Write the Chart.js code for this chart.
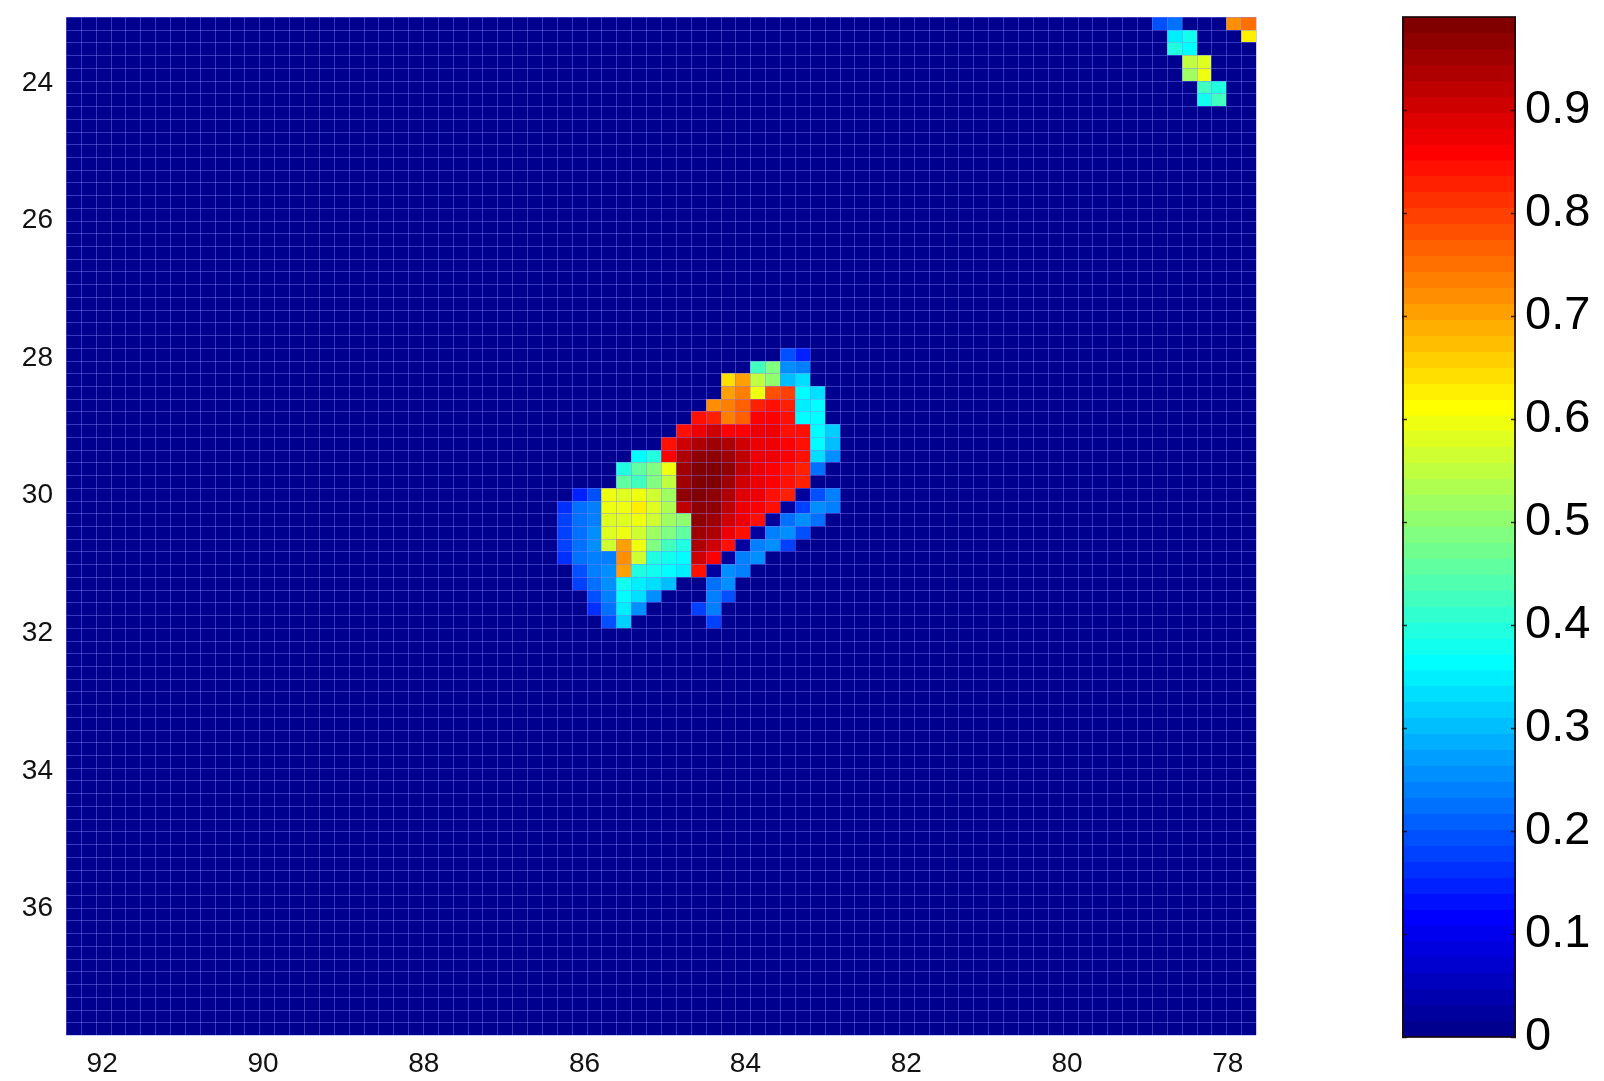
<!DOCTYPE html>
<html>
<head>
<meta charset="utf-8">
<script src="https://cdn.jsdelivr.net/npm/chart.js@4.4.1/dist/chart.umd.min.js"></script>
<style>
  html, body { margin: 0; padding: 0; background: #fff; }
  #map { position: absolute; left: 0; top: 0; }
  #bar { position: absolute; left: 1402px; top: 0; }
</style>
</head>
<body>
<canvas id="map" width="1300" height="1081"></canvas>
<canvas id="bar" width="202" height="1081"></canvas>
<script>
// 80 x 80 cells of 0.185 deg, counted from the north-west corner
const gridCols = 80;
const gridRows = 80;
const lonWest = 92.45;
const latTop = 23.04;
const cellDeg = 0.185;

const lonTicks = [92, 90, 88, 86, 84, 82, 80, 78];
const latTicks = [24, 26, 28, 30, 32, 34, 36];
const colorTicks = [0, 0.1, 0.2, 0.3, 0.4, 0.5, 0.6, 0.7, 0.8, 0.9];

// non-zero runs: grid row, first grid column, values along the row (percent)
const hotRow = [0, 0, 1, 1, 2, 3, 4, 5, 6,
  26, 27, 28, 29, 30, 31, 32, 33, 34, 35, 36, 37, 38, 39, 40, 41, 42, 43, 44, 45, 46, 47];
const hotCol = [73, 78, 74, 79, 74, 75, 75, 76, 76,
  48, 46, 44, 44, 43, 42, 41, 40, 38, 37, 37, 34, 33, 33, 33, 33, 33, 34, 34, 35, 35, 36];
const hotPct = [
  [20, 22], [72, 75], [35, 38], [62], [40, 36], [55, 58], [52, 60], [42, 40], [38, 42],
  [20, 15],
  [42, 48, 26, 24],
  [64, 70, 55, 50, 30, 34],
  [70, 74, 60, 78, 80, 36, 33],
  [72, 74, 76, 82, 84, 82, 35, 36],
  [84, 82, 74, 76, 86, 86, 84, 36, 36],
  [84, 88, 90, 86, 86, 88, 87, 85, 84, 37, 32],
  [84, 90, 94, 95, 93, 90, 88, 87, 86, 84, 36, 30],
  [36, 40, 86, 93, 97, 97, 95, 92, 88, 87, 86, 84, 34, 26],
  [40, 45, 48, 60, 95, 98, 99, 96, 92, 88, 86, 85, 83, 22],
  [45, 42, 48, 55, 95, 98, 98, 95, 90, 87, 86, 84, 82],
  [14, 20, 60, 58, 60, 56, 52, 96, 98, 97, 94, 89, 87, 85, 83, 3, 20, 24],
  [16, 22, 24, 60, 60, 62, 58, 54, 92, 97, 96, 92, 88, 86, 84, 3, 18, 25, 24],
  [18, 22, 24, 58, 58, 60, 56, 52, 50, 96, 95, 90, 87, 84, 3, 22, 25, 22],
  [18, 22, 25, 58, 60, 56, 52, 48, 46, 95, 93, 88, 84, 3, 24, 25, 20],
  [18, 22, 25, 56, 70, 60, 48, 42, 40, 93, 90, 85, 3, 24, 25, 18],
  [16, 22, 24, 24, 72, 56, 40, 38, 36, 90, 86, 3, 24, 25],
  [20, 24, 25, 70, 40, 38, 36, 35, 84, 3, 25, 24],
  [18, 22, 25, 38, 35, 34, 30, 0, 0, 22, 25],
  [20, 24, 36, 34, 25, 0, 0, 0, 24, 20],
  [16, 22, 35, 25, 0, 0, 0, 18, 24],
  [20, 32, 0, 0, 0, 0, 0, 18]
];

const lonEast = lonWest - gridCols * cellDeg;
const latBottom = latTop + gridRows * cellDeg;
const cMax = Math.max(...hotPct.flat()) / 100;

// MATLAB style 64 step jet
function buildJet(m) {
  const n = Math.ceil(m / 4);
  const u = [];
  for (let i = 1; i <= n; i++) u.push(i / n);
  for (let i = 1; i < n; i++) u.push(1);
  for (let i = n; i >= 1; i--) u.push(i / n);
  const g0 = Math.ceil(n / 2) - (m % 4 === 1 ? 1 : 0);
  const map = Array.from({ length: m }, () => [0, 0, 0]);
  u.forEach((val, i) => {
    const g = g0 + i + 1, r = g + n, b = g - n;
    if (g >= 1 && g <= m) map[g - 1][1] = val;
    if (r >= 1 && r <= m) map[r - 1][0] = val;
    if (b >= 1 && b <= m) map[b - 1][2] = val;
  });
  return map.map(c => `rgb(${Math.round(c[0] * 255)},${Math.round(c[1] * 255)},${Math.round(c[2] * 255)})`);
}
const jet = buildJet(64);
function jetColor(v) {
  const k = Math.floor(v / cMax * 64);
  return jet[Math.min(63, Math.max(0, k))];
}

// fill the whole grid, zero where nothing was measured
const values = new Array(gridCols * gridRows).fill(0);
hotRow.forEach((r, i) => {
  hotPct[i].forEach((p, k) => { values[r * gridCols + hotCol[i] + k] = p / 100; });
});
const cells = [];
for (let r = 0; r < gridRows; r++) {
  for (let c = 0; c < gridCols; c++) {
    cells.push({
      x: lonWest - (c + 0.5) * cellDeg,
      y: latTop + (r + 0.5) * cellDeg,
      v: values[r * gridCols + c]
    });
  }
}

const cellPainter = {
  id: 'cellPainter',
  beforeDatasetsDraw(chart) {
    const { ctx, scales: { x, y } } = chart;
    const half = cellDeg / 2;
    ctx.save();
    chart.data.datasets[0].data.forEach(p => {
      const x0 = Math.round(x.getPixelForValue(p.x + half));
      const x1 = Math.round(x.getPixelForValue(p.x - half));
      const y0 = Math.round(y.getPixelForValue(p.y - half));
      const y1 = Math.round(y.getPixelForValue(p.y + half));
      ctx.fillStyle = jetColor(p.v);
      ctx.fillRect(Math.min(x0, x1), Math.min(y0, y1), Math.abs(x1 - x0), Math.abs(y1 - y0));
    });
    // light mesh over the cells
    const top = y.getPixelForValue(latTop), bottom = y.getPixelForValue(latBottom);
    const left = x.getPixelForValue(lonWest), right = x.getPixelForValue(lonEast);
    ctx.strokeStyle = 'rgba(130,130,255,0.42)';
    ctx.lineWidth = 1;
    ctx.beginPath();
    for (let c = 0; c <= gridCols; c++) {
      const px = Math.round(x.getPixelForValue(lonWest - c * cellDeg)) + 0.5;
      ctx.moveTo(px, top);
      ctx.lineTo(px, bottom);
    }
    for (let r = 0; r <= gridRows; r++) {
      const py = Math.round(y.getPixelForValue(latTop + r * cellDeg)) + 0.5;
      ctx.moveTo(left, py);
      ctx.lineTo(right, py);
    }
    ctx.stroke();
    ctx.restore();
  }
};

const tickFont = { family: 'Liberation Sans', size: 28 };

new Chart(document.getElementById('map'), {
  type: 'scatter',
  data: { datasets: [{ data: cells, pointRadius: 0, pointHoverRadius: 0 }] },
  options: {
    responsive: false,
    animation: false,
    events: [],
    layout: { padding: { top: 17, right: 44, left: 0, bottom: 0 } },
    plugins: { legend: { display: false }, tooltip: { enabled: false } },
    scales: {
      x: {
        type: 'linear', reverse: true, min: lonEast, max: lonWest,
        grid: { display: false, drawTicks: false }, border: { display: false },
        afterBuildTicks: s => { s.ticks = lonTicks.map(v => ({ value: v })); },
        afterFit: s => { s.height = 46; s.paddingLeft = 0; s.paddingRight = 0; },
        ticks: { padding: 12, color: '#111', font: tickFont, autoSkip: false, maxRotation: 0 }
      },
      y: {
        type: 'linear', reverse: true, min: latTop, max: latBottom,
        grid: { display: false, drawTicks: false }, border: { display: false },
        afterBuildTicks: s => { s.ticks = latTicks.map(v => ({ value: v })); },
        afterFit: s => { s.width = 66; s.paddingTop = 0; s.paddingBottom = 0; },
        ticks: { padding: 13, color: '#111', font: tickFont, autoSkip: false }
      }
    }
  },
  plugins: [cellPainter]
});

// colour bar
function jetGradient(chart) {
  const area = chart.chartArea;
  if (!area) return jet[0];
  const ys = chart.scales.y;
  const g = chart.ctx.createLinearGradient(0, ys.getPixelForValue(0), 0, ys.getPixelForValue(cMax));
  for (let k = 0; k < 64; k++) {
    g.addColorStop(k / 64, jet[k]);
    g.addColorStop(Math.min(1, (k + 1) / 64 - 0.0001), jet[k]);
  }
  return g;
}

const barFrame = {
  id: 'barFrame',
  afterDatasetsDraw(chart) {
    const { ctx, chartArea: a, scales: { y } } = chart;
    ctx.save();
    ctx.strokeStyle = 'rgba(25,10,10,0.85)';
    ctx.lineWidth = 2;
    ctx.strokeRect(a.left + 1, a.top, a.right - a.left - 2, a.bottom - a.top);
    ctx.lineWidth = 1.5;
    ctx.beginPath();
    colorTicks.forEach(v => {
      const py = Math.round(y.getPixelForValue(v)) + 0.5;
      ctx.moveTo(a.left, py); ctx.lineTo(a.left + 5, py);
      ctx.moveTo(a.right - 5, py); ctx.lineTo(a.right, py);
    });
    ctx.stroke();
    ctx.restore();
  }
};

new Chart(document.getElementById('bar'), {
  type: 'bar',
  data: {
    labels: [''],
    datasets: [{
      data: [[0, cMax]],
      backgroundColor: ctx => jetGradient(ctx.chart),
      borderWidth: 0,
      barPercentage: 1,
      categoryPercentage: 1
    }]
  },
  options: {
    responsive: false,
    animation: false,
    events: [],
    layout: { padding: { top: 17, bottom: 44, left: 0, right: 0 } },
    plugins: { legend: { display: false }, tooltip: { enabled: false } },
    scales: {
      x: { display: false },
      y: {
        position: 'right', min: 0, max: cMax,
        grid: { display: false, drawTicks: false }, border: { display: false },
        afterBuildTicks: s => { s.ticks = colorTicks.map(v => ({ value: v })); },
        afterFit: s => { s.width = 88; s.paddingTop = 0; s.paddingBottom = 0; },
        ticks: {
          padding: 9, color: '#000', font: { family: 'Liberation Sans', size: 47 },
          callback: v => v === 0 ? '0' : v.toFixed(1)
        }
      }
    }
  },
  plugins: [barFrame]
});
</script>
</body>
</html>
